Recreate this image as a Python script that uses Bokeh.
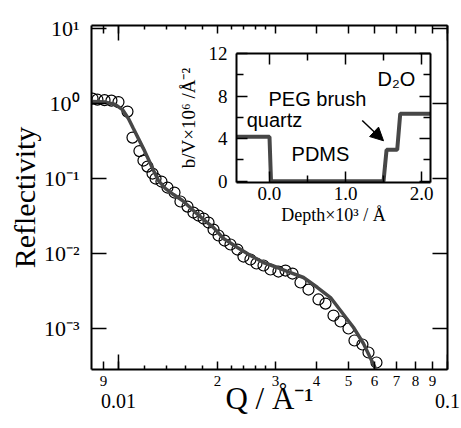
import numpy as np
from bokeh.plotting import figure
from bokeh.models import (Range1d, LogAxis, LinearAxis, FixedTicker, CustomJSTickFormatter,
                          CustomLabelingPolicy, Arrow, NormalHead, Column)
from bokeh.core.properties import value
from bokeh.embed import file_html
from bokeh.resources import INLINE

# ---------------- data ----------------
q_data = [0.00834, 0.00863, 0.00907, 0.00952, 0.0100, 0.01065, 0.01103, 0.01158, 0.01191, 0.01225,
          0.01269, 0.01296, 0.01351, 0.01409, 0.01480, 0.01543, 0.01621, 0.01690, 0.01750, 0.01814,
          0.01878, 0.01945, 0.02014, 0.02101, 0.02190, 0.02299, 0.02398, 0.02518, 0.02627, 0.02759,
          0.02897, 0.03063, 0.03218, 0.03380, 0.03574, 0.03780, 0.04054, 0.04258, 0.04503, 0.04729,
          0.05001, 0.05215, 0.05514, 0.05753, 0.06083]
r_data = [1.166, 1.131, 1.113, 1.096, 1.047, 0.782, 0.352, 0.2326, 0.1738, 0.1445,
          0.1166, 0.100, 0.0912, 0.0759, 0.0651, 0.0494, 0.0423, 0.0352, 0.0321, 0.0293,
          0.0259, 0.0209, 0.0174, 0.0149, 0.0132, 0.0113, 0.00912, 0.00832, 0.00736, 0.00692,
          0.00612, 0.00575, 0.00593, 0.00541, 0.00411, 0.00331, 0.00244, 0.00215, 0.00149, 0.00124,
          0.00100, 0.000692, 0.000612, 0.000479, 0.000352]

q_fit = [0.008337, 0.009130, 0.009792, 0.01028, 0.01072, 0.01110, 0.01150, 0.01191, 0.01234, 0.01278,
         0.01323, 0.01390, 0.01470, 0.01565, 0.01690, 0.01814, 0.01945, 0.02085, 0.02299, 0.02518,
         0.02759, 0.03042, 0.03333, 0.03650, 0.04026, 0.04410, 0.04729, 0.05180, 0.05553, 0.06041]
r_fit = [1.063, 1.047, 0.970, 0.832, 0.631, 0.464, 0.341, 0.251, 0.179, 0.128,
         0.0940, 0.0736, 0.0612, 0.0509, 0.0374, 0.0284, 0.0222, 0.01585, 0.01202, 0.00940,
         0.00759, 0.00651, 0.00558, 0.00479, 0.00352, 0.00259, 0.00174, 0.00103, 0.000631, 0.000293]

# SLD profile (inset)
depth = [-0.434, 0.0, 0.02, 1.50, 1.54, 1.68, 1.72, 2.118]
sld = [4.18, 4.18, 0.0, 0.0, 2.95, 2.95, 6.35, 6.35]

layer_names = ["PEG brush", "quartz", "PDMS", "D\u2082O"]

# ticks / tick labels
x_label_ticks = [0.009, 0.02, 0.03, 0.04, 0.05, 0.06, 0.07, 0.08, 0.09]
x_label_texts = ["9", "2", "3", "4", "5", "6", "7", "8", "9"]
x_minor_ticks = [0.012, 0.014, 0.016, 0.018, 0.022, 0.024, 0.026, 0.028]
x_decades = [0.01, 0.1]
x_decade_labels = ["0.01", "0.1"]
y_ticks = [1e-3, 1e-2, 1e-1, 1.0, 10.0]
y_tick_labels = ["10\u207b\u00b3", "10\u207b\u00b2", "10\u207b\u00b9", "10\u2070", "10\u00b9"]

in_x_ticks = [0.0, 1.0, 2.0]
in_x_labels = ["0.0", "1.0", "2.0"]
in_x_minor = [0.5, 1.5]
in_y_ticks = [0, 4, 8, 12]
in_y_labels = ["0", "4", "8", "12"]
in_y_minor = [2, 6, 10]

SERIF = "Liberation Serif"
SANS = "Liberation Sans"
LINE_COL = "#474747"


def fmt(tvals, tlabels):
    return CustomJSTickFormatter(args=dict(tvals=list(tvals), tlabels=list(tlabels)), code="""
for (let i = 0; i < tvals.length; i++) {
  if (Math.abs(tick - tvals[i]) <= 1e-6 * Math.abs(tvals[i]) + 1e-12) return tlabels[i];
}
return "";
""")


def no_labels():
    return CustomLabelingPolicy(code="""
for (const i of indices) indices.unset(i)
return indices
""")


def style_axis(ax, tick_in, minor_in=0, font="15px", standoff=0, hide=False):
    ax.axis_line_width = 2
    ax.axis_line_color = "black"
    ax.major_tick_in = tick_in
    ax.major_tick_out = 0
    ax.major_tick_line_width = 1.5
    ax.minor_tick_in = minor_in
    ax.minor_tick_out = 0
    ax.minor_tick_line_width = 1.5
    if minor_in == 0:
        ax.minor_tick_line_color = None
    ax.major_label_text_font = SERIF
    ax.major_label_text_font_size = font
    ax.major_label_text_color = "black"
    ax.major_label_standoff = standoff
    ax.axis_label_text_color = "black"
    ax.axis_label_text_font = SERIF
    ax.axis_label_text_font_style = "normal"
    if hide:
        ax.formatter = fmt([], [])
        ax.major_label_policy = no_labels()


# ---------------- main figure ----------------
x_lo, x_hi = 0.00828, 0.1
y_lo, y_hi = 2.84e-4, 11.0

p = figure(width=461, height=428, x_axis_type="log", y_axis_type="log",
           x_range=Range1d(x_lo, x_hi), y_range=Range1d(y_lo, y_hi),
           output_backend="svg", toolbar_location=None,
           min_border_left=91, min_border_right=14, min_border_top=25, min_border_bottom=59)
p.grid.visible = False
p.outline_line_color = None
p.background_fill_color = "white"
p.border_fill_color = "white"

xa = p.xaxis[0]
xa.ticker = FixedTicker(ticks=x_label_ticks + x_decades, minor_ticks=x_minor_ticks)
xa.formatter = fmt(x_label_ticks, x_label_texts)
style_axis(xa, 8, 4, "15px", 6)

# second row of bottom labels (decades) carrying the axis title
xa2 = LogAxis(ticker=FixedTicker(ticks=x_decades, minor_ticks=[]),
              formatter=fmt(x_decades, x_decade_labels))
style_axis(xa2, 0, 0, "20px", 5)
xa2.axis_line_color = None
xa2.major_tick_line_color = None
xa2.axis_label = "Q / \u00c5\u207b\u00b9"
xa2.axis_label_text_font_size = "31px"
xa2.axis_label_standoff = -30
p.add_layout(xa2, "below")

ya = p.yaxis[0]
ya.ticker = FixedTicker(ticks=y_ticks, minor_ticks=[])
ya.formatter = fmt(y_ticks, y_tick_labels)
style_axis(ya, 15, 0, "22px", 12)
ya.axis_label = "Reflectivity"
ya.axis_label_text_font_size = "30px"
ya.axis_label_standoff = 0

top = LogAxis(ticker=FixedTicker(ticks=x_label_ticks + x_decades, minor_ticks=x_minor_ticks))
style_axis(top, 8, 4, hide=True)
p.add_layout(top, "above")

right = LogAxis(ticker=FixedTicker(ticks=y_ticks, minor_ticks=[]))
style_axis(right, 15, hide=True)
p.add_layout(right, "right")

# longer decade ticks on bottom and top edges
dx = [d for d in x_decades for _ in range(2)]
dy = [y_lo, y_hi] * len(x_decades)
p.scatter(dx, dy, marker="dash", angle=np.pi / 2, size=30, line_color="black", line_width=1.5)

p.scatter(q_data, r_data, marker="circle", size=11, fill_color=None,
          line_color="black", line_width=1.2)
p.line(q_fit, r_fit, line_color=LINE_COL, line_width=3.5)

# ---------------- inset ----------------
# (a column aligns the side borders of its plots, so the inset uses the same left/right borders)
ins = figure(width=91 + 194 + 14, height=12 + 129 + 58,
             x_range=Range1d(-0.434, 2.118), y_range=Range1d(-0.12, 12.0),
             output_backend="svg", toolbar_location=None,
             min_border_left=91, min_border_right=14, min_border_top=12, min_border_bottom=58)
ins.grid.visible = False
ins.outline_line_color = None
ins.background_fill_color = "white"
ins.border_fill_color = None
ins.styles = {"position": "absolute", "left": "145px", "top": "41px"}

ixa = ins.xaxis[0]
ixa.ticker = FixedTicker(ticks=in_x_ticks, minor_ticks=in_x_minor)
ixa.formatter = fmt(in_x_ticks, in_x_labels)
style_axis(ixa, 11, 7, "19px", 4)
ixa.axis_label = "Depth\u00d710\u00b3 / \u00c5"
ixa.axis_label_text_font_size = "18px"
ixa.axis_label_standoff = 2

iya = ins.yaxis[0]
iya.ticker = FixedTicker(ticks=in_y_ticks, minor_ticks=in_y_minor)
iya.formatter = fmt(in_y_ticks, in_y_labels)
style_axis(iya, 11, 7, "19px", 9)
iya.axis_label = "b/V\u00d710\u2076 /\u00c5\u207b\u00b2"
iya.axis_label_text_font_size = "19px"
iya.axis_label_standoff = 7

itop = LinearAxis(ticker=FixedTicker(ticks=in_x_ticks, minor_ticks=in_x_minor))
style_axis(itop, 11, 7, hide=True)
ins.add_layout(itop, "above")
iright = LinearAxis(ticker=FixedTicker(ticks=in_y_ticks, minor_ticks=in_y_minor))
style_axis(iright, 11, 7, hide=True)
ins.add_layout(iright, "right")

ins.line(depth, sld, line_color=LINE_COL, line_width=4)

layer_x = [-0.013, -0.30, 0.29, 1.42]
layer_y = [7.75, 5.75, 2.6, 9.65]
ins.text(x=layer_x, y=layer_y, text=layer_names, text_font=value(SANS),
         text_font_size="20px", text_baseline="middle", text_align="left", text_color="black")

ins.add_layout(Arrow(end=NormalHead(size=13, fill_color="black", line_color="black"),
                     x_start=1.22, y_start=5.7, x_end=1.50, y_end=3.8,
                     line_width=1.5, line_color="black"))

root = Column(children=[p, ins], styles={"position": "relative"})

open("out.html", "w").write(file_html(root, INLINE))
